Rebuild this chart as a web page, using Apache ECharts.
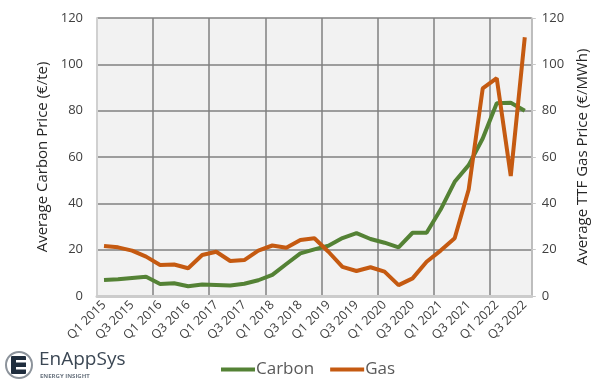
<!DOCTYPE html>
<html>
<head>
<meta charset="utf-8">
<script src="https://cdn.jsdelivr.net/npm/echarts@6/dist/echarts.min.js"></script>
<style>
  html, body { margin: 0; padding: 0; background: #fff; }
  #chart { width: 598px; height: 381px; }
</style>
</head>
<body>
<div id="chart"></div>
<script>
// quarters Q1 2015 .. Q3 2022
const years = ['2015', '2016', '2017', '2018', '2019', '2020', '2021', '2022']
const quarters = []
years.forEach(y => {
  ['Q1', 'Q2', 'Q3', 'Q4'].forEach(q => {
    if (!(y === '2022' && q === 'Q4')) quarters.push(q + ' ' + y)
  })
})

// €/te
const carbon = [6.9, 7.2, 7.8, 8.3, 5.2, 5.5, 4.2, 5.0, 4.8, 4.5, 5.3, 6.8, 9.1, 13.8, 18.4, 20.1,
  21.7, 25.0, 27.1, 24.6, 23.0, 21.0, 27.3, 27.3, 37.3, 49.3, 56.5, 68.0, 83.2, 83.4, 80.0]
// €/MWh
const gas = [21.6, 21.0, 19.6, 17.0, 13.4, 13.6, 12.0, 17.7, 19.1, 15.1, 15.5, 19.6, 21.8, 20.8, 24.2, 24.9,
  19.1, 12.6, 10.8, 12.4, 10.5, 4.7, 7.6, 14.8, 19.6, 24.9, 46.0, 89.6, 94.0, 51.8, 111.7]

const font = 'Open Sans'
const chart = echarts.init(document.getElementById('chart'))

let option = {
  animation: false,
  textStyle: { fontFamily: font },
  grid: {
    left: 97,
    right: 57,
    top: 18,
    bottom: 85,
    show: true,
    backgroundColor: '#f2f2f2',
    borderWidth: 0
  },
  legend: {
    left: 216,
    top: 356,
    icon: 'rect',
    itemWidth: 34,
    itemHeight: 4,
    itemGap: 16,
    textStyle: { fontFamily: font, fontSize: 17, color: '#595959', padding: [0, 0, 0, -4] },
    data: ['Carbon', 'Gas']
  },
  xAxis: {
    type: 'category',
    data: quarters,
    boundaryGap: true,
    axisLine: { lineStyle: { color: '#cccccc', width: 3 } },
    axisTick: { show: false },
    axisLabel: {
      interval: 1,
      rotate: 45,
      fontSize: 12.5,
      color: '#404040',
      margin: 7
    },
    splitLine: {
      show: true,
      interval: 3,
      lineStyle: { color: '#808080', width: 1.5 }
    }
  },
  yAxis: [
    {
      type: 'value',
      min: 0,
      max: 120,
      interval: 20,
      name: 'Average Carbon Price (€/te)',
      nameLocation: 'middle',
      nameGap: 41,
      nameTextStyle: { fontSize: 15, color: '#262626' },
      axisLine: { show: true, lineStyle: { color: '#d0d0d0', width: 2 } },
      axisTick: { show: false },
      axisLabel: { fontSize: 13, color: '#404040', margin: 14 },
      splitLine: { show: true, lineStyle: { color: '#808080', width: 1.5 } }
    },
    {
      type: 'value',
      min: 0,
      max: 120,
      interval: 20,
      name: 'Average TTF Gas Price (€/MWh)',
      nameLocation: 'middle',
      nameGap: 38,
      nameTextStyle: { fontSize: 15, color: '#262626' },
      axisLine: { show: true, lineStyle: { color: '#c8c8c8', width: 1.5 } },
      axisTick: { show: true, length: 4, lineStyle: { color: '#c8c8c8' } },
      axisLabel: { fontSize: 13, color: '#404040', margin: 10 },
      splitLine: { show: false }
    }
  ],
  series: [
    {
      name: 'Carbon',
      type: 'line',
      data: carbon,
      yAxisIndex: 0,
      symbol: 'none',
      itemStyle: { color: '#548235' },
      lineStyle: { color: '#548235', width: 4 }
    },
    {
      name: 'Gas',
      type: 'line',
      data: gas,
      yAxisIndex: 1,
      symbol: 'none',
      itemStyle: { color: '#c55a11' },
      lineStyle: { color: '#c55a11', width: 4 }
    }
  ],
  // EnAppSys logo
  graphic: [
    {
      type: 'circle',
      shape: { cx: 19, cy: 365, r: 13 },
      style: { fill: '#fff', stroke: '#8c939b', lineWidth: 2 }
    },
    { type: 'rect', shape: { x: 11, y: 356, width: 15, height: 18, r: 1 }, style: { fill: '#1f2d3d' } },
    { type: 'rect', shape: { x: 16, y: 360, width: 10, height: 2.5 }, style: { fill: '#fff' } },
    { type: 'rect', shape: { x: 16, y: 367, width: 10, height: 2.5 }, style: { fill: '#fff' } },
    {
      type: 'text',
      left: 39,
      top: 350,
      style: { text: 'EnAppSys', fontFamily: font, fontSize: 19, fill: '#3b4754' }
    },
    {
      type: 'text',
      left: 40,
      top: 373,
      style: { text: 'ENERGY INSIGHT', fontFamily: font, fontSize: 6, fontWeight: 'bold', fill: '#6b7580' }
    }
  ]
}

chart.setOption(option)
</script>
</body>
</html>
